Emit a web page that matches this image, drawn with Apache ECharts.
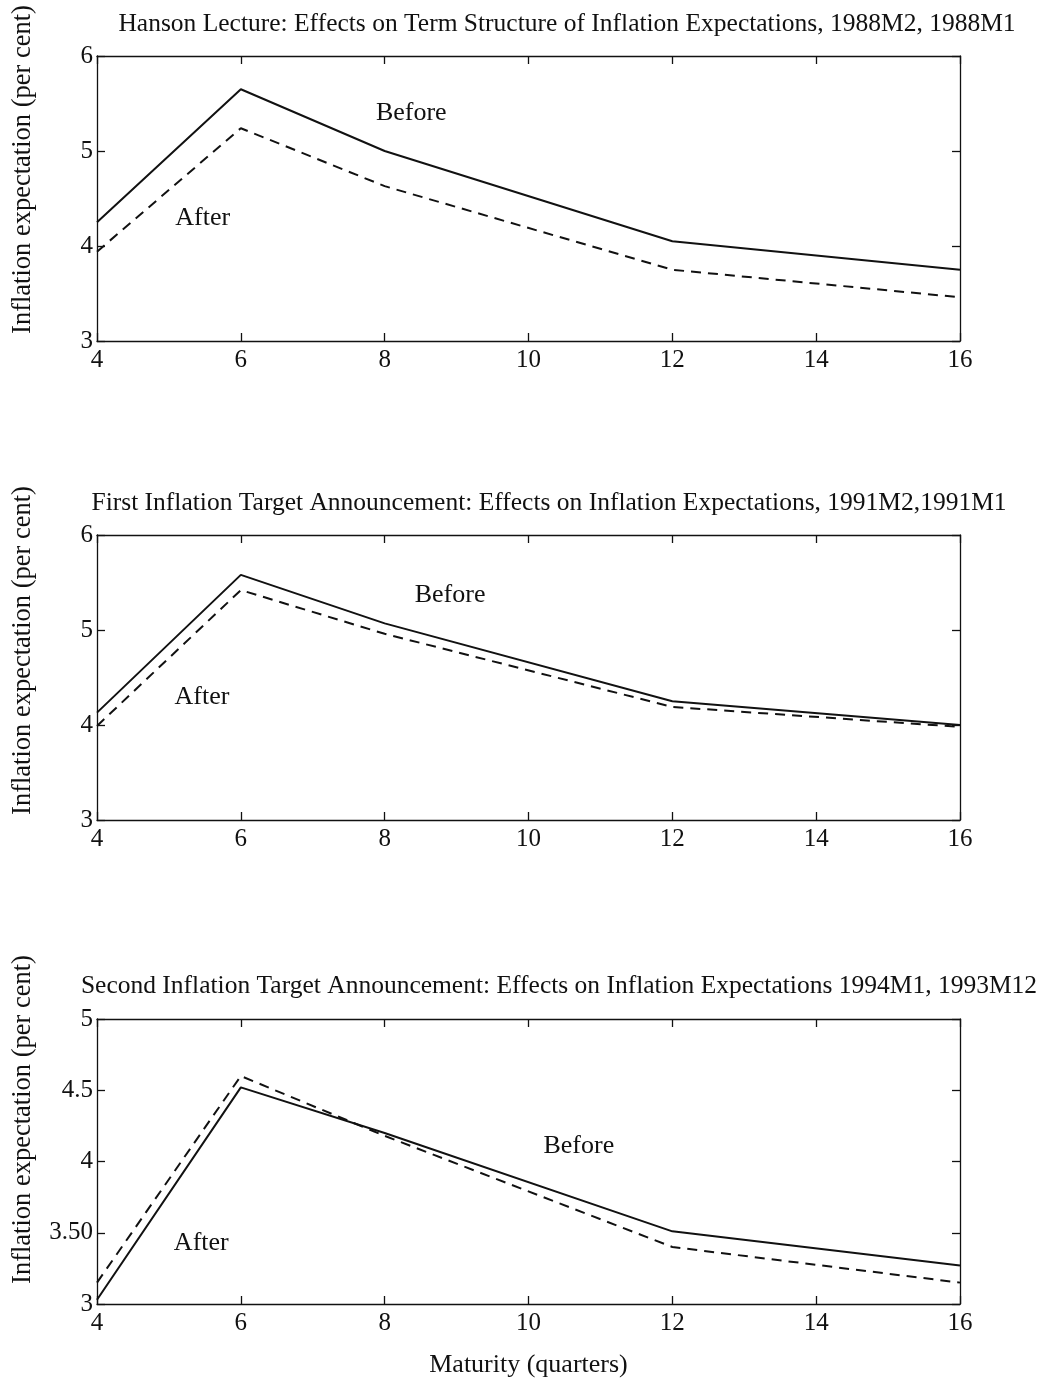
<!DOCTYPE html>
<html>
<head>
<meta charset="utf-8">
<script src="https://cdn.jsdelivr.net/npm/echarts@6/dist/echarts.min.js"></script>
<style>
  html, body { margin: 0; padding: 0; background: #fff; }
  #chart { width: 1059px; height: 1384px; }
</style>
</head>
<body>
<div id="chart"></div>
<script>
// maturity in quarters
const maturity = [4, 6, 8, 12, 16];

// panel 1: Hanson lecture
const hansonBefore = [4.25, 5.65, 5.0, 4.05, 3.75];
const hansonAfter = [3.94, 5.24, 4.63, 3.75, 3.46];

// panel 2: first target announcement
const firstBefore = [4.13, 5.58, 5.07, 4.25, 4.0];
const firstAfter = [3.99, 5.42, 4.96, 4.19, 3.98];

// panel 3: second target announcement
const secondBefore = [3.03, 4.52, 4.2, 3.51, 3.27];
const secondAfter = [3.15, 4.6, 4.18, 3.4, 3.15];

const titles = [
  "Hanson Lecture: Effects on Term Structure of Inflation Expectations, 1988M2, 1988M1",
  "First Inflation Target Announcement: Effects on Inflation Expectations, 1991M2,1991M1",
  "Second Inflation Target Announcement: Effects on Inflation Expectations 1994M1, 1993M12"
];
const xTicks = [4, 6, 8, 10, 12, 14, 16];
const yTicksA = ["3", "4", "5", "6"];
const yTicksC = ["3", "3.50", "4", "4.5", "5"];

const font = "Liberation Serif";
const black = "#111";

const chart = echarts.init(document.getElementById("chart"));

const panels = [
  { top: 56, before: hansonBefore, after: hansonAfter, min: 3, max: 6, step: 1, labels: yTicksA,
    beforePos: [8.37, 5.4], afterPos: [5.47, 4.29], titleY: 24, titleX: 567, nameShift: 58 },
  { top: 535, before: firstBefore, after: firstAfter, min: 3, max: 6, step: 1, labels: yTicksA,
    beforePos: [8.91, 5.37], afterPos: [5.46, 4.29], titleY: 503, titleX: 549, nameShift: 54 },
  { top: 1019, before: secondBefore, after: secondAfter, min: 3, max: 5, step: 0.5, labels: yTicksC,
    beforePos: [10.7, 4.11], afterPos: [5.45, 3.43], titleY: 986, titleX: 559, nameShift: 84 }
];

const grid = [], xAxis = [], yAxis = [], series = [], graphic = [];

panels.forEach(function (p, i) {
  grid.push({ left: 97, right: 99, top: p.top, height: 285 });

  const axisLine = { show: true, onZero: false, lineStyle: { color: black, width: 1.3 } };
  const tick = { show: true, inside: true, length: 8, lineStyle: { color: black, width: 1.3 } };

  xAxis.push({
    gridIndex: i, type: "value", position: "bottom", min: 4, max: 16, interval: 2,
    axisLine: axisLine, axisTick: tick, splitLine: { show: false },
    axisLabel: { color: black, fontFamily: font, fontSize: 25, margin: 7,
      formatter: function (v) { return xTicks.indexOf(v) >= 0 ? String(v) : ""; } },
    name: i === 2 ? "Maturity (quarters)" : "",
    nameLocation: "middle", nameGap: 48,
    nameTextStyle: { color: black, fontFamily: font, fontSize: 26 }
  });
  xAxis.push({
    gridIndex: i, type: "value", position: "top", min: 4, max: 16, interval: 2,
    axisLine: axisLine, axisTick: tick, axisLabel: { show: false }, splitLine: { show: false }
  });

  yAxis.push({
    gridIndex: i, type: "value", position: "left", min: p.min, max: p.max, interval: p.step,
    axisLine: axisLine, axisTick: tick, splitLine: { show: false },
    axisLabel: { color: black, fontFamily: font, fontSize: 25, margin: 4,
      formatter: function (v) { return p.labels[Math.round((v - p.min) / p.step)]; } },
    name: "Inflation expectation (per cent)",
    nameLocation: "middle", nameGap: 60,
    nameTextStyle: { color: black, fontFamily: font, fontSize: 26.5, padding: [0, 0, 0, p.nameShift] }
  });
  yAxis.push({
    gridIndex: i, type: "value", position: "right", min: p.min, max: p.max, interval: p.step,
    axisLine: axisLine, axisTick: tick, axisLabel: { show: false }, splitLine: { show: false }
  });

  const txt = function (name, pos) {
    return { coord: pos, symbolSize: 0, label: { show: true, formatter: name, position: "inside",
      color: black, fontFamily: font, fontSize: 26 } };
  };

  series.push({
    type: "line", xAxisIndex: i * 2, yAxisIndex: i * 2,
    data: maturity.map(function (m, k) { return [m, p.before[k]]; }),
    symbol: "none", lineStyle: { color: black, width: 2, type: "solid" },
    markPoint: { silent: true, data: [txt("Before", p.beforePos), txt("After", p.afterPos)] }
  });
  series.push({
    type: "line", xAxisIndex: i * 2, yAxisIndex: i * 2,
    data: maturity.map(function (m, k) { return [m, p.after[k]]; }),
    symbol: "none", lineStyle: { color: black, width: 2, type: [10, 7] }
  });

  graphic.push({
    type: "text", x: p.titleX, y: p.titleY,
    style: { text: titles[i], fill: black, font: "25.5px '" + font + "'",
      textAlign: "center", textVerticalAlign: "middle" }
  });
});

chart.setOption({
  animation: false,
  backgroundColor: "#fff",
  grid: grid,
  xAxis: xAxis,
  yAxis: yAxis,
  series: series,
  graphic: graphic
});
</script>
</body>
</html>
